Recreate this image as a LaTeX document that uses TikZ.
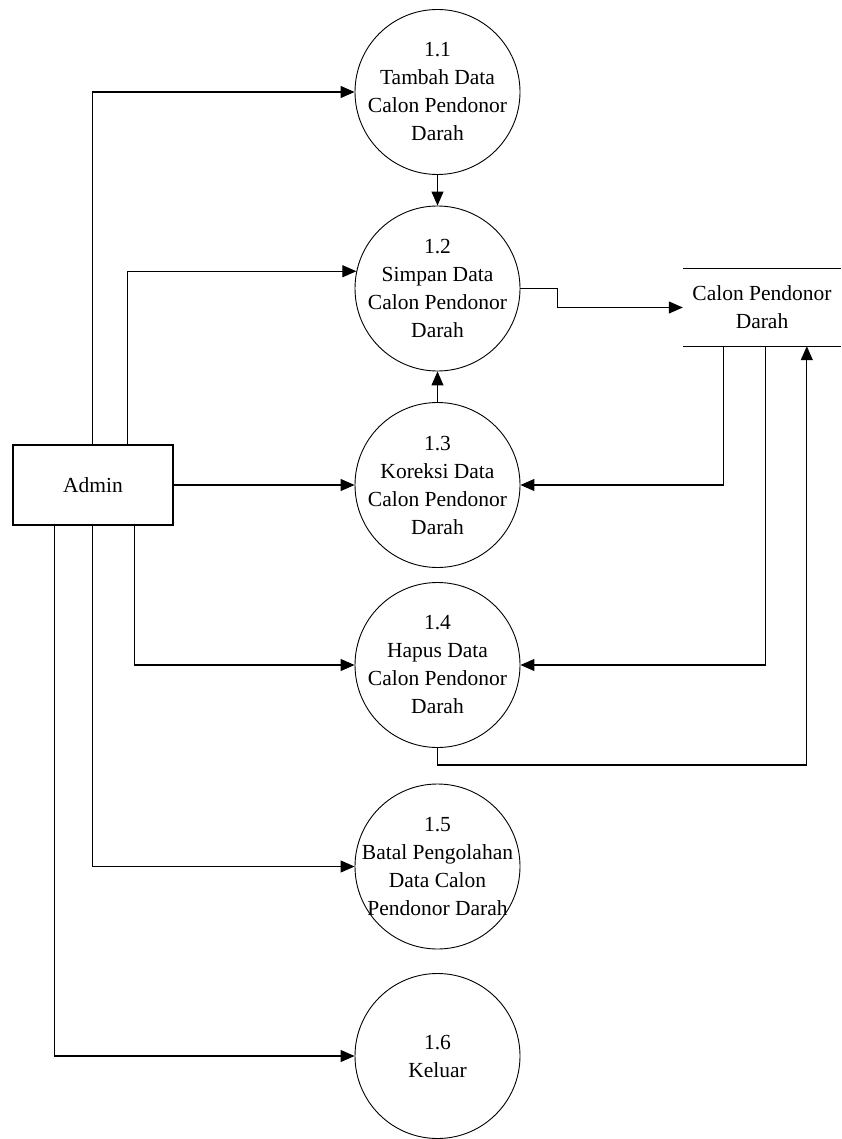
\documentclass[tikz,border=0pt]{standalone}
\usepackage{fontspec}
\setmainfont{Liberation Serif}
\usetikzlibrary{arrows.meta}
\begin{document}
\begin{tikzpicture}[x=1pt,y=-1pt,
  txt/.style={font=\fontsize{21.5}{28}\selectfont},
  proc/.style={txt,circle,draw,line width=0.9pt,minimum size=165pt,inner sep=-20pt,align=center},
  ent/.style={txt,draw,line width=1.1pt,minimum width=160pt,minimum height=80pt,inner sep=0pt},
  dstore/.style={txt,minimum width=158pt,minimum height=77pt,inner sep=0pt,align=center},
  link/.style={line width=1.1pt},
  flow/.style={link,-{Triangle[length=14pt,width=12pt]}}
]
\useasboundingbox (0,0) rectangle (841,1139);

% external entity
\node[ent] (admin) at (93,485) {Admin};

% processes
\node[proc] (p11) at (437.5,92)   {1.1\\Tambah Data\\Calon Pendonor\\Darah};
\node[proc] (p12) at (437.5,288.5){1.2\\Simpan Data\\Calon Pendonor\\Darah};
\node[proc] (p13) at (437.5,485)  {1.3\\Koreksi Data\\Calon Pendonor\\Darah};
\node[proc] (p14) at (437.5,665)  {1.4\\Hapus Data\\Calon Pendonor\\Darah};
\node[proc] (p15) at (437.5,866.5){1.5\\Batal Pengolahan\\Data Calon\\Pendonor Darah};
\node[proc] (p16) at (437.5,1056) {1.6\\Keluar};

% data store
\node[dstore] (store) at (762,307.5) {Calon Pendonor\\Darah};
\draw[link] (store.north west) -- (store.north east);
\draw[link] (store.south west) -- (store.south east);

% flows from Admin
\draw[flow] ([xshift=80pt]admin.north west) |- (p11.west);
\draw[flow] ([xshift=115pt]admin.north west) |- (p12.168);
\draw[flow] (admin.east) -- (p13.west);
\draw[flow] ([xshift=122pt]admin.south west) |- (p14.west);
\draw[flow] ([xshift=80pt]admin.south west) |- (p15.west);
\draw[flow] ([xshift=42pt]admin.south west) |- (p16.west);

% flows between processes
\draw[flow] (p11.south) -- (p12.north);
\draw[flow] (p13.north) -- (p12.south);

% flows with the data store
\draw[flow] (p12.east) -- ++(37,0) |- (store.west);
\draw[flow] ([xshift=41pt]store.south west) |- (p13.east);
\draw[flow] ([xshift=83pt]store.south west) |- (p14.east);
\draw[flow] (p14.south) -- ++(0,17) -| ([xshift=124pt]store.south west);
\end{tikzpicture}
\end{document}
